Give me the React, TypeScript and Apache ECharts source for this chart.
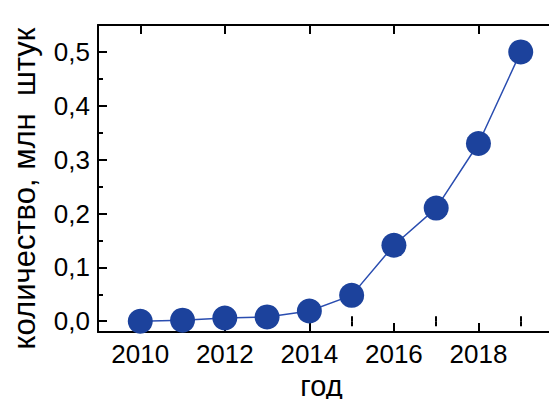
import React, { useEffect, useRef } from "react";
import * as echarts from "echarts";

const years = [2010, 2011, 2012, 2013, 2014, 2015, 2016, 2017, 2018, 2019];
const counts = [0.0, 0.002, 0.006, 0.008, 0.019, 0.048, 0.141, 0.21, 0.33, 0.5];
const xMajorTicks = [2010, 2012, 2014, 2016, 2018, 2020];
const xLabels = [2010, 2012, 2014, 2016, 2018];
const xMinorTicks = [2011, 2013, 2015, 2017, 2019];
const yMajorTicks = [0, 0.1, 0.2, 0.3, 0.4, 0.5];
const yMinorTicks = [0.05, 0.15, 0.25, 0.35, 0.45];
const xTitle = "год";
const yTitle = "количество, млн  штук";

const FONT = "'Liberation Sans', Arial, sans-serif";
const BLUE = "#1c429c";

export default function App() {
  const ref = useRef<HTMLDivElement>(null);
  useEffect(() => {
    if (!ref.current) return;
    const chart = echarts.init(ref.current, null, { renderer: "svg" });
    const axisLine = { show: true, onZero: false, lineStyle: { color: "#000", width: 2 } };
    const xBase = {
      type: "value" as const,
      min: 2009,
      max: 2020,
      gridIndex: 0,
      splitLine: { show: false },
    };
    const yBase = {
      type: "value" as const,
      min: -0.02,
      max: 0.55,
      splitLine: { show: false },
    };
    chart.setOption({
      animation: false,
      backgroundColor: "#fff",
      grid: { left: 98, top: 25, bottom: 67, right: 17, containLabel: false, outerBoundsMode: "none" },
      xAxis: [
        {
          ...xBase,
          position: "bottom",
          axisLine,
          axisTick: { inside: true, length: 9, lineStyle: { color: "#000", width: 2 }, customValues: xMajorTicks },
          axisLabel: {
            customValues: xLabels,
            margin: 9,
            fontSize: 26,
            color: "#000",
            fontFamily: FONT,
            formatter: (v: number) => String(v),
          },
          name: xTitle,
          nameLocation: "middle",
          nameGap: 39,
          nameTextStyle: { fontSize: 29, lineHeight: 24, color: "#000", fontFamily: FONT, padding: [0, 18, 0, 0] },
        },
        {
          ...xBase,
          position: "bottom",
          axisLine: { show: false },
          axisTick: { inside: true, length: 5, lineStyle: { color: "#000", width: 2 }, customValues: xMinorTicks },
          axisLabel: { show: false },
        },
        {
          ...xBase,
          position: "top",
          axisLine,
          axisTick: { inside: true, length: 9, lineStyle: { color: "#000", width: 2 }, customValues: xMajorTicks },
          axisLabel: { show: false },
        },
        {
          ...xBase,
          position: "top",
          axisLine: { show: false },
          axisTick: { inside: true, length: 5, lineStyle: { color: "#000", width: 2 }, customValues: xMinorTicks },
          axisLabel: { show: false },
        },
      ],
      yAxis: [
        {
          ...yBase,
          position: "left",
          axisLine,
          axisTick: { inside: true, length: 9, lineStyle: { color: "#000", width: 2 }, customValues: yMajorTicks },
          axisLabel: {
            customValues: yMajorTicks,
            margin: 8,
            fontSize: 26,
            color: "#000",
            fontFamily: FONT,
            formatter: (v: number) => v.toFixed(1).replace(".", ","),
          },
          name: yTitle,
          nameLocation: "middle",
          nameGap: 58,
          nameRotate: 90,
          nameTextStyle: { fontSize: 31, color: "#000", fontFamily: FONT, padding: [0, 20, 0, 0] },
        },
        {
          ...yBase,
          position: "left",
          axisLine: { show: false },
          axisTick: { inside: true, length: 5, lineStyle: { color: "#000", width: 2 }, customValues: yMinorTicks },
          axisLabel: { show: false },
        },
      ],
      series: [
        {
          type: "line",
          xAxisIndex: 0,
          yAxisIndex: 0,
          data: years.map((y, i) => [y, counts[i]]),
          symbol: "circle",
          symbolSize: 25,
          lineStyle: { color: "#2a4db0", width: 1.5 },
          itemStyle: { color: BLUE },
          z: 3,
        },
      ],
    });
    return () => chart.dispose();
  }, []);
  return (
    <div style={{ width: 549, height: 399, position: "absolute", left: 0, top: 0, overflow: "hidden", background: "#fff" }}>
      <div ref={ref} style={{ width: 580, height: 399, position: "absolute", left: 0, top: 0 }} />
    </div>
  );
}
